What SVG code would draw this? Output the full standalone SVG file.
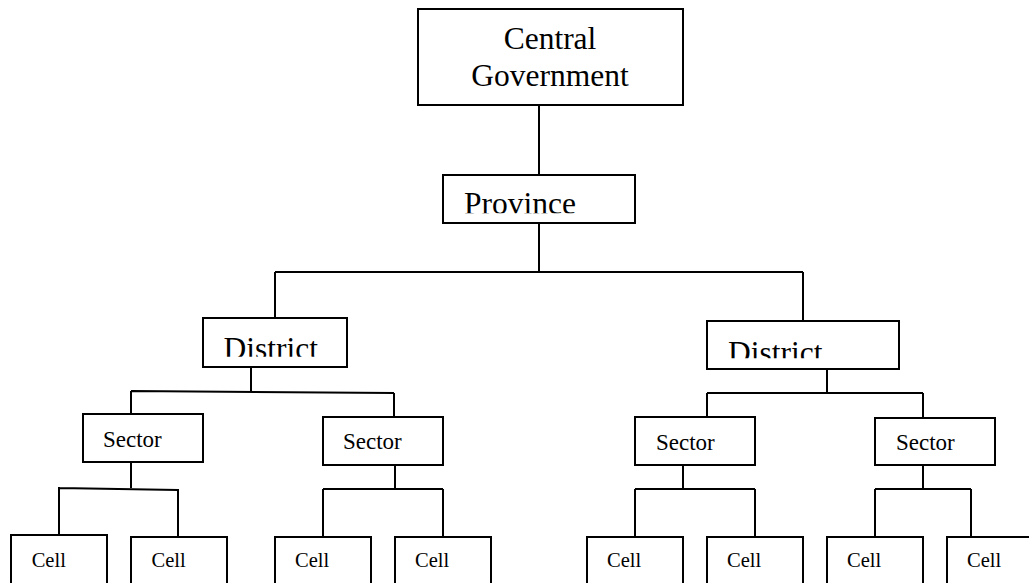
<svg xmlns="http://www.w3.org/2000/svg" width="1029" height="583" viewBox="0 0 1029 583">
<style>
.box{fill:#fff;stroke:#000;stroke-width:2}
.ln{fill:none;stroke:#000;stroke-width:2}
text{font-family:'Liberation Serif','DejaVu Serif',serif;fill:#000}
.big{font-size:31.5px}
.sec{font-size:23px}
.cell{font-size:20.5px}
</style>
<defs>
<clipPath id="cpProv"><rect x="443" y="176" width="191" height="37.3"/></clipPath>
<clipPath id="cpD1"><rect x="204" y="319" width="142" height="37.7"/></clipPath>
<clipPath id="cpD2"><rect x="708" y="322" width="190" height="36.3"/></clipPath>
</defs>
<rect width="1029" height="583" fill="#fff"/>
<g id="connectors">
<path class="ln" d="M539 105V175"/>
<path class="ln" d="M539 223V272M275 272H803M275 272V318M803 272V321"/>
<path class="ln" d="M251 367V392M131 391L394 393M131 391V414M394 393V417"/>
<path class="ln" d="M827 369V393M707 393H923M707 393V417M923 393V418"/>
<path class="ln" d="M131 463V488M59 488L178 490M59 487V535M178 489V537"/>
<path class="ln" d="M395 465V489M323 489H443M323 489V537M443 489V537"/>
<path class="ln" d="M683 465V489M635 489H755M635 489V537M755 489V537"/>
<path class="ln" d="M923 465V489M875 489H971M875 489V537M971 489V537"/>
</g>
<g id="central">
<rect class="box" x="418" y="9" width="265" height="96"/>
<text class="big" x="550" y="48.5" text-anchor="middle">Central</text>
<text class="big" x="550" y="86" text-anchor="middle">Government</text>
</g>
<g id="province">
<rect class="box" x="443" y="175" width="192" height="48"/>
<text class="big" x="464" y="214" clip-path="url(#cpProv)">Province</text>
</g>
<g id="district1">
<rect class="box" x="203" y="318" width="144" height="49"/>
<text class="big" x="223.5" y="358.6" clip-path="url(#cpD1)">District</text>
</g>
<g id="district2">
<rect class="box" x="707" y="321" width="192" height="48"/>
<text class="big" x="728" y="362.6" clip-path="url(#cpD2)">District</text>
</g>
<g id="sector1">
<rect class="box" x="83" y="414" width="120" height="48"/>
<text class="sec" x="103" y="447">Sector</text>
</g>
<g id="sector2">
<rect class="box" x="323" y="417" width="120" height="48"/>
<text class="sec" x="343" y="449">Sector</text>
</g>
<g id="sector3">
<rect class="box" x="635" y="417" width="120" height="48"/>
<text class="sec" x="656" y="450">Sector</text>
</g>
<g id="sector4">
<rect class="box" x="875" y="418" width="120" height="47"/>
<text class="sec" x="896" y="450">Sector</text>
</g>
<g id="cell1"><rect class="box" x="11" y="535" width="96" height="60"/><text class="cell" x="31.7" y="566.5">Cell</text></g>
<g id="cell2"><rect class="box" x="131" y="537" width="96" height="60"/><text class="cell" x="151.5" y="566.5">Cell</text></g>
<g id="cell3"><rect class="box" x="275" y="537" width="96" height="60"/><text class="cell" x="295" y="566.5">Cell</text></g>
<g id="cell4"><rect class="box" x="395" y="537" width="96" height="60"/><text class="cell" x="415" y="566.5">Cell</text></g>
<g id="cell5"><rect class="box" x="587" y="537" width="96" height="60"/><text class="cell" x="607" y="566.5">Cell</text></g>
<g id="cell6"><rect class="box" x="707" y="537" width="96" height="60"/><text class="cell" x="727" y="566.5">Cell</text></g>
<g id="cell7"><rect class="box" x="827" y="537" width="96" height="60"/><text class="cell" x="847" y="566.5">Cell</text></g>
<g id="cell8"><rect class="box" x="947" y="537" width="96" height="60"/><text class="cell" x="967" y="566.5">Cell</text></g>
</svg>
